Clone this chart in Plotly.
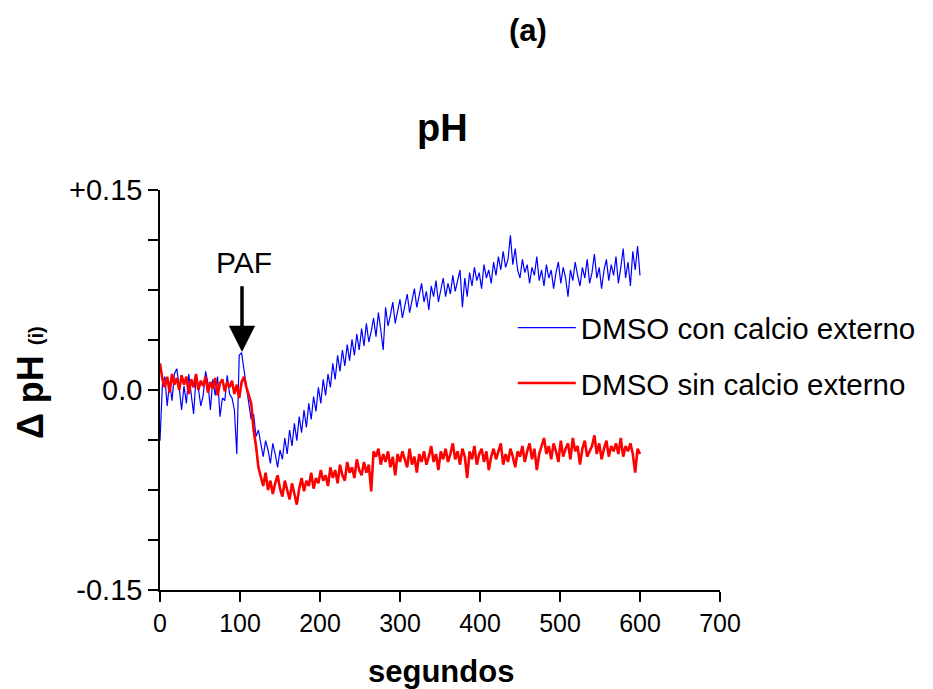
import plotly.graph_objects as go

# time grid (s), one sample every 3 s
time_s = list(range(0, 601, 3))

dmso_con_calcio = [
    -0.038, 0.004, 0.010, -0.012, 0.006, -0.008, 0.012, 0.016, 0.002, -0.015,
    0.003, -0.010, 0.012, -0.002, -0.018, 0.009, 0.001, -0.012, -0.004, 0.014,
    0.005, -0.015, 0.008, -0.004, 0.010, -0.020, -0.006, -0.008, 0.011, -0.003,
    -0.006, -0.015, -0.048, 0.026, 0.028, 0.015, 0.004, -0.010, -0.022, -0.018,
    -0.035, -0.030, -0.040, -0.050, -0.038, -0.045, -0.055, -0.040, -0.048, -0.058,
    -0.045, -0.052, -0.036, -0.048, -0.030, -0.042, -0.025, -0.038, -0.020, -0.032,
    -0.015, -0.028, -0.010, -0.022, -0.005, -0.016, 0.002, -0.010, 0.008, -0.004,
    0.012, 0.002, 0.020, 0.008, 0.026, 0.014, 0.030, 0.018, 0.034, 0.022,
    0.038, 0.026, 0.042, 0.030, 0.046, 0.033, 0.050, 0.036, 0.044, 0.054,
    0.040, 0.058, 0.045, 0.030, 0.062, 0.048, 0.056, 0.066, 0.050, 0.060,
    0.068, 0.054, 0.064, 0.072, 0.058, 0.068, 0.076, 0.062, 0.070, 0.080,
    0.066, 0.074, 0.060, 0.078, 0.070, 0.082, 0.066, 0.076, 0.084, 0.070,
    0.080, 0.072, 0.086, 0.074, 0.082, 0.090, 0.062, 0.084, 0.070, 0.088,
    0.078, 0.092, 0.082, 0.088, 0.076, 0.094, 0.084, 0.090, 0.080, 0.096,
    0.086, 0.100, 0.090, 0.104, 0.092, 0.098, 0.116, 0.094, 0.106, 0.090,
    0.084, 0.098, 0.088, 0.094, 0.080, 0.092, 0.086, 0.100, 0.082, 0.090,
    0.078, 0.094, 0.084, 0.090, 0.076, 0.088, 0.096, 0.080, 0.092, 0.084,
    0.070, 0.090, 0.082, 0.096, 0.086, 0.078, 0.092, 0.084, 0.098, 0.080,
    0.088, 0.102, 0.084, 0.092, 0.076, 0.090, 0.098, 0.082, 0.094, 0.086,
    0.100, 0.080, 0.092, 0.106, 0.084, 0.096, 0.078, 0.104, 0.090, 0.108,
    0.086,
]

dmso_sin_calcio = [
    0.020, 0.008, 0.002, 0.010, -0.002, 0.012, 0.004, 0.009, 0.000, 0.011,
    0.004, 0.010, -0.003, 0.008, 0.002, 0.012, 0.000, 0.007, 0.003, 0.010,
    -0.002, 0.006, 0.001, 0.009, -0.004, 0.005, 0.008, -0.001, 0.006, 0.002,
    0.007, -0.003, 0.004, -0.006, 0.006, 0.010, 0.002, -0.004, -0.010, -0.030,
    -0.042, -0.058, -0.066, -0.072, -0.062, -0.075, -0.068, -0.078, -0.070, -0.064,
    -0.074, -0.080, -0.068, -0.076, -0.082, -0.070, -0.078, -0.086, -0.074, -0.066,
    -0.076, -0.068, -0.072, -0.062, -0.074, -0.066, -0.070, -0.060, -0.068, -0.064,
    -0.072, -0.058, -0.066, -0.060, -0.070, -0.056, -0.064, -0.068, -0.054, -0.062,
    -0.058, -0.066, -0.052, -0.060, -0.064, -0.054, -0.062, -0.056, -0.076, -0.046,
    -0.050, -0.044, -0.056, -0.048, -0.054, -0.046, -0.058, -0.050, -0.064, -0.048,
    -0.054, -0.046, -0.052, -0.058, -0.044, -0.056, -0.050, -0.062, -0.048, -0.054,
    -0.046, -0.056, -0.050, -0.042, -0.054, -0.048, -0.060, -0.046, -0.052, -0.044,
    -0.054, -0.048, -0.040, -0.052, -0.046, -0.056, -0.044, -0.050, -0.066, -0.046,
    -0.052, -0.042, -0.056, -0.048, -0.044, -0.054, -0.046, -0.060, -0.050, -0.044,
    -0.052, -0.046, -0.040, -0.056, -0.048, -0.054, -0.044, -0.050, -0.058, -0.046,
    -0.050, -0.042, -0.054, -0.046, -0.040, -0.052, -0.044, -0.060, -0.048, -0.042,
    -0.036, -0.048, -0.042, -0.052, -0.040, -0.046, -0.054, -0.038, -0.050, -0.044,
    -0.040, -0.052, -0.036, -0.046, -0.042, -0.056, -0.044, -0.038, -0.050, -0.046,
    -0.042, -0.034, -0.048, -0.040, -0.052, -0.044, -0.038, -0.050, -0.042, -0.046,
    -0.040, -0.048, -0.036, -0.050, -0.042, -0.046, -0.040, -0.048, -0.062, -0.044,
    -0.048,
]

series_names = ["DMSO con calcio externo", "DMSO sin calcio externo"]

x_ticks = [0, 100, 200, 300, 400, 500, 600, 700]
y_ticks = [-0.15, -0.1125, -0.075, -0.0375, 0.0, 0.0375, 0.075, 0.1125, 0.15]
y_tick_text = ["-0.15", "", "", "", "0.0", "", "", "", "+0.15"]

paf_time = 102.5
paf_tip = 0.0285
paf_tail = 0.079

FONT = "Liberation Sans, Arial, sans-serif"

fig = go.Figure()
fig.add_trace(go.Scatter(
    x=time_s, y=dmso_con_calcio, mode="lines", name=series_names[0],
    line=dict(color="#0000FF", width=1.2), legendgroup="a",
))
fig.add_trace(go.Scatter(
    x=time_s, y=dmso_sin_calcio, mode="lines", name=series_names[1],
    line=dict(color="#FF0000", width=2.6), legendgroup="b",
))

fig.update_layout(
    width=933, height=689,
    margin=dict(l=152, r=221, t=182, b=107),
    paper_bgcolor="white", plot_bgcolor="white",
    font=dict(family=FONT, color="black"),
    showlegend=True,
    legend=dict(
        x=0.63, y=0.72, xanchor="left", yanchor="top",
        font=dict(size=29.5, family=FONT, color="black"),
        bgcolor="rgba(0,0,0,0)", itemwidth=58,
        tracegroupgap=14, traceorder="grouped",
    ),
    xaxis=dict(
        range=[0, 700], tickvals=x_ticks, ticks="outside", ticklen=10,
        tickwidth=1.5, tickcolor="black", showline=True, linecolor="black",
        linewidth=1.5, showgrid=False, zeroline=False,
        tickfont=dict(size=25, family=FONT, color="black"),
    ),
    yaxis=dict(
        range=[-0.15, 0.15], tickvals=y_ticks, ticktext=y_tick_text,
        ticks="outside", ticklen=10, tickwidth=1.5, tickcolor="black",
        showline=True, linecolor="black", linewidth=1.5, showgrid=False,
        zeroline=False, tickfont=dict(size=29, family=FONT, color="black"),
    ),
)

annotations = [
    dict(text="<b>(a)</b>", x=0.657, y=1.40, xref="paper", yref="paper",
         xanchor="center", yanchor="middle",
         showarrow=False, font=dict(size=31, family=FONT)),
    dict(text="<b>pH</b>", x=0.504, y=1.155, xref="paper", yref="paper",
         xanchor="center", yanchor="middle",
         showarrow=False, font=dict(size=38, family=FONT)),
    dict(text="<b>segundos</b>", x=0.502, y=-0.2025, xref="paper", yref="paper",
         xanchor="center", yanchor="middle",
         showarrow=False, font=dict(size=31, family=FONT)),
    dict(text="<b>Δ pH <span style='font-size:20px'>(i)</span></b>",
         x=-0.232, y=0.5175, xref="paper", yref="paper", textangle=-90,
         xanchor="center", yanchor="middle",
         showarrow=False, font=dict(size=36, family=FONT)),
    dict(text="PAF", x=paf_time + 3, y=0.096, xref="x", yref="y",
         xanchor="center", yanchor="middle",
         showarrow=False, font=dict(size=30, family=FONT)),
    dict(text="", x=paf_time, y=paf_tip, ax=paf_time, ay=paf_tail,
         xref="x", yref="y", axref="x", ayref="y", showarrow=True,
         arrowhead=2, arrowwidth=3.5, arrowsize=1.5, arrowcolor="black"),
]
fig.update_layout(annotations=annotations)

fig.write_html("out.html")
